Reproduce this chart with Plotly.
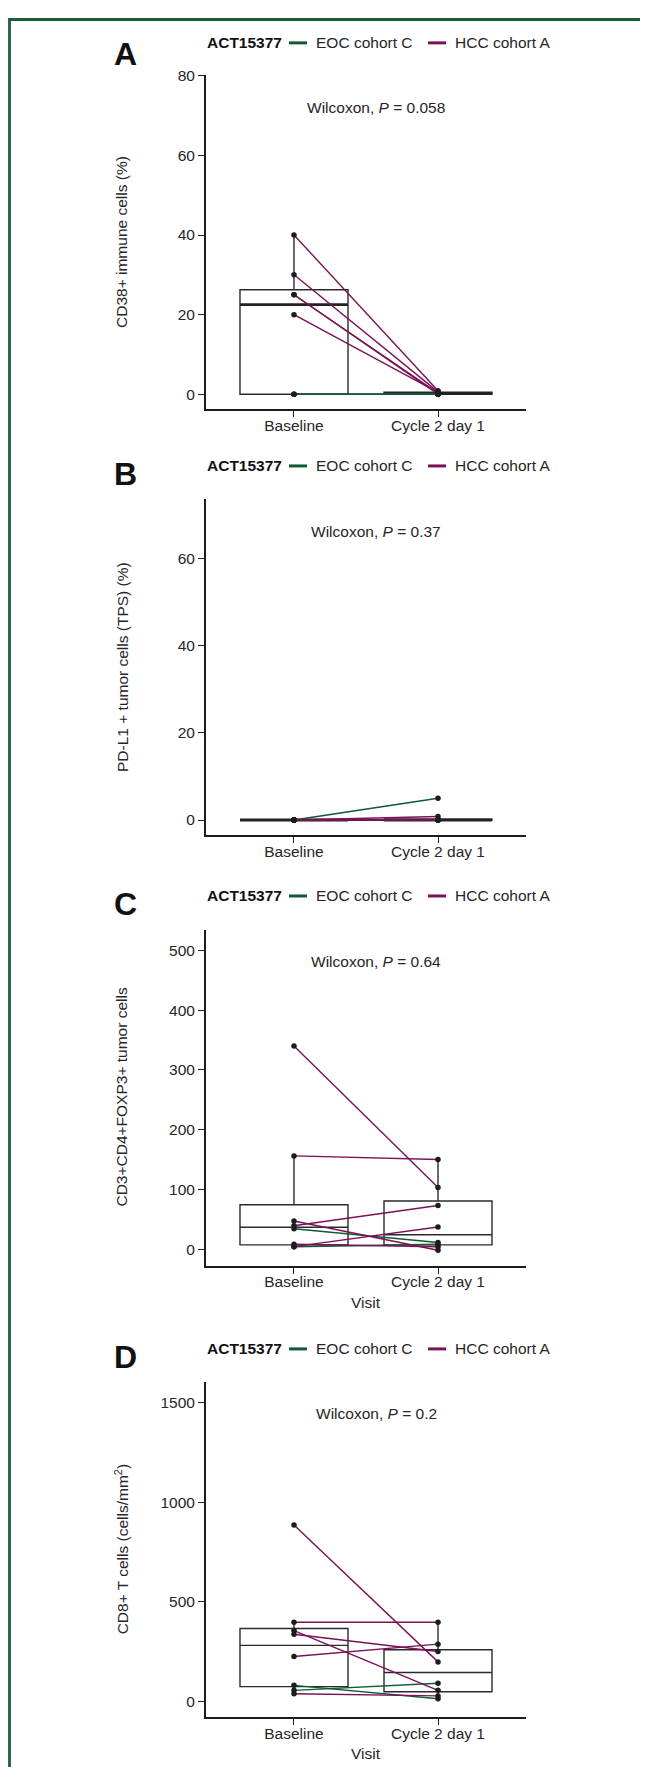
import numpy as np
import plotly.graph_objects as go

W, H = 648, 1767          # browser window
OFF = 8                   # default page body margin
FW, FH = W - OFF, H - OFF # figure size so it fits the window exactly

# ---------------- data ----------------
visits = ["Baseline", "Cycle 2 day 1"]
visit_pos = [1, 2]
legend_labels = ["EOC cohort C", "HCC cohort A"]
cohort_keys = ["EOC", "HCC"]

# Panel A: CD38+ immune cells (%)
a_cohort = ["HCC", "HCC", "HCC", "HCC", "HCC", "HCC", "EOC", "EOC"]
a_baseline = [40, 30, 25, 25, 20, 0, 0, 0]
a_cycle2 = [0.9, 0.6, 0.3, 0, 0.5, 0, 0, 0]
a_ticks = [0, 20, 40, 60, 80]
a_p = "0.058"

# Panel B: PD-L1+ tumor cells (TPS) (%)
b_cohort = ["EOC", "EOC", "HCC", "HCC", "HCC", "HCC", "HCC", "HCC"]
b_baseline = [0, 0, 0, 0, 0, 0, 0, 0]
b_cycle2 = [5, 0, 0.8, 0, 0, 0, 0, 0]
b_ticks = [0, 20, 40, 60]
b_p = "0.37"

# Panel C: CD3+CD4+FOXP3+ tumor cells
c_cohort = ["HCC", "HCC", "HCC", "HCC", "HCC", "EOC", "EOC", "HCC"]
c_baseline = [340, 156, 39, 47, 4, 34, 4, 8]
c_cycle2 = [103, 150, 73, -2, 37, 11, 8, 4]
c_ticks = [0, 100, 200, 300, 400, 500]
c_p = "0.64"

# Panel D: CD8+ T cells (cells/mm2)
d_cohort = ["HCC", "HCC", "HCC", "HCC", "HCC", "EOC", "EOC", "HCC"]
d_baseline = [885, 397, 355, 337, 225, 80, 55, 38]
d_cycle2 = [198, 397, 55, 250, 287, 13, 91, 27]
d_ticks = [0, 500, 1000, 1500]
d_p = "0.2"

# ---------------- styling ----------------
FONT = "Liberation Sans, Arial, Helvetica, sans-serif"
COL = {"EOC": "#0e5a35", "HCC": "#7a1257"}
INK = "#1c1c1c"
TXT = "#262626"
BORDER = "#1b5e3b"
FS = 15.5


def py(px):
    return 1 - (px - OFF) / FH


def pxx(px):
    return (px - OFF) / FW


panels = [
    dict(letter="A", cohort=a_cohort, base=a_baseline, cyc=a_cycle2, ticks=a_ticks, p=a_p,
         ytitle="CD38+ immune cells (%)", top=67, bot=403, zero=388, ppu=4.0,
         leg=35, let=46, wy=72, visit=False, order=["HCC", "EOC"], fat=True),
    dict(letter="B", cohort=b_cohort, base=b_baseline, cyc=b_cycle2, ticks=b_ticks, p=b_p,
         ytitle="PD-L1 + tumor cells (TPS) (%)", top=493, bot=831, zero=815.7, ppu=4.375,
         leg=460, let=468, wy=66.2, visit=False, order=["EOC", "HCC"], fat=True),
    dict(letter="C", cohort=c_cohort, base=c_baseline, cyc=c_cycle2, ticks=c_ticks, p=c_p,
         ytitle="CD3+CD4+FOXP3+ tumor cells", top=925.7, bot=1263.3, zero=1246.7, ppu=0.6,
         leg=892, let=900, wy=482, visit=True, order=["EOC", "HCC"], fat=False),
    dict(letter="D", cohort=d_cohort, base=d_baseline, cyc=d_cycle2, ticks=d_ticks, p=d_p,
         ytitle="CD8+ T cells (cells/mm<sup>2</sup>)", top=1380, bot=1716.7, zero=1701, ppu=0.2,
         leg=1347, let=1355, wy=1446, visit=True, order=["EOC", "HCC"], fat=False),
]

X_LEFT, X_RIGHT = 206, 526
X_RANGE = [0.389, 2.611]


def box_stats(v):
    v = np.asarray(v, float)
    q1, med, q3 = np.percentile(v, [25, 50, 75])
    iqr = q3 - q1
    lo = v[v >= q1 - 1.5 * iqr].min()
    hi = v[v <= q3 + 1.5 * iqr].max()
    return q1, med, q3, lo, hi


fig = go.Figure()
annotations = []
shapes = []

for i, p in enumerate(panels):
    k = "" if i == 0 else str(i + 1)
    xa, ya = "x" + k, "y" + k

    # boxes
    stats = [box_stats(p["base"]), box_stats(p["cyc"])]
    fig.add_trace(go.Box(
        x=visit_pos,
        q1=[s[0] for s in stats], median=[s[1] for s in stats], q3=[s[2] for s in stats],
        lowerfence=[s[3] for s in stats], upperfence=[s[4] for s in stats],
        width=0.75, whiskerwidth=0, boxpoints=False,
        line=dict(color="#2a2a2a", width=1.4), fillcolor="rgba(255,255,255,0)",
        xaxis=xa, yaxis=ya, showlegend=False, hoverinfo="skip"))
    if p["fat"]:
        # thicker median bar (ggplot-style fattened median)
        meds = [s[1] for s in stats]
        fig.add_trace(go.Box(
            x=visit_pos, q1=meds, median=meds, q3=meds, lowerfence=meds, upperfence=meds,
            width=0.75, whiskerwidth=0, boxpoints=False,
            line=dict(color="#222222", width=2.8), fillcolor="rgba(255,255,255,0)",
            xaxis=xa, yaxis=ya, showlegend=False, hoverinfo="skip"))

    # paired lines per cohort
    for ck in p["order"]:
        xs, ys = [], []
        for c, b, cy in zip(p["cohort"], p["base"], p["cyc"]):
            if c == ck:
                xs += [visit_pos[0], visit_pos[1], None]
                ys += [b, cy, None]
        fig.add_trace(go.Scatter(x=xs, y=ys, mode="lines",
                                 line=dict(color=COL[ck], width=1.4),
                                 xaxis=xa, yaxis=ya, showlegend=False, hoverinfo="skip"))

    # points
    n = len(p["base"])
    fig.add_trace(go.Scatter(x=[visit_pos[0]] * n + [visit_pos[1]] * n,
                             y=list(p["base"]) + list(p["cyc"]), mode="markers",
                             marker=dict(color=INK, size=5.5),
                             xaxis=xa, yaxis=ya, showlegend=False, hoverinfo="skip"))

    yr = [(p["zero"] - p["bot"]) / p["ppu"], (p["zero"] - p["top"]) / p["ppu"]]
    axis_common = dict(showline=True, linecolor=INK, linewidth=2, ticks="outside",
                       ticklen=6, tickwidth=1.4, tickcolor=INK, showgrid=False,
                       zeroline=False, tickfont=dict(family=FONT, size=FS, color=TXT))
    fig.update_layout(**{
        "xaxis" + k: dict(domain=[pxx(X_LEFT), pxx(X_RIGHT)], range=X_RANGE,
                          tickvals=visit_pos, ticktext=visits, anchor=ya,
                          ticklabelstandoff=-5, **axis_common),
        "yaxis" + k: dict(domain=[py(p["bot"]), py(p["top"])], range=yr,
                          tickvals=p["ticks"], anchor=xa, **axis_common),
    })

    # panel letter
    annotations.append(dict(text="<b>%s</b>" % p["letter"], x=pxx(125), y=py(p["let"]),
                            xref="paper", yref="paper", xanchor="center", yanchor="middle",
                            showarrow=False, font=dict(family=FONT, size=32, color="#111")))
    # legend row
    ly = py(p["leg"])
    annotations.append(dict(text="<b>ACT15377</b>", x=pxx(205), y=ly, xref="paper", yref="paper",
                            xanchor="left", yanchor="middle", showarrow=False,
                            font=dict(family=FONT, size=15.5, color="#111")))
    annotations.append(dict(text=legend_labels[0], x=pxx(314), y=ly, xref="paper", yref="paper",
                            xanchor="left", yanchor="middle", showarrow=False,
                            font=dict(family=FONT, size=15.5, color=TXT)))
    annotations.append(dict(text=legend_labels[1], x=pxx(453), y=ly, xref="paper", yref="paper",
                            xanchor="left", yanchor="middle", showarrow=False,
                            font=dict(family=FONT, size=15.5, color=TXT)))
    shapes.append(dict(type="line", xref="paper", yref="paper", x0=pxx(289), x1=pxx(307),
                       y0=ly, y1=ly, line=dict(color=COL["EOC"], width=3)))
    shapes.append(dict(type="line", xref="paper", yref="paper", x0=pxx(428), x1=pxx(446),
                       y0=ly, y1=ly, line=dict(color=COL["HCC"], width=3)))

    # y title
    annotations.append(dict(text=p["ytitle"], x=pxx(122), y=py((p["top"] + p["bot"]) / 2),
                            xref="paper", yref="paper", xanchor="center", yanchor="middle",
                            textangle=-90, showarrow=False,
                            font=dict(family=FONT, size=FS, color=TXT)))
    # Wilcoxon label
    annotations.append(dict(text="Wilcoxon, <i>P</i> = %s" % p["p"], x=1.57, y=p["wy"],
                            xref=xa, yref=ya, xanchor="center", yanchor="middle",
                            showarrow=False, font=dict(family=FONT, size=15.5, color=TXT)))
    if p["visit"]:
        annotations.append(dict(text="Visit", x=pxx(366), y=py(p["bot"] + 37),
                                xref="paper", yref="paper", xanchor="center", yanchor="middle",
                                showarrow=False, font=dict(family=FONT, size=FS, color=TXT)))

# frame border (top and left)
shapes.append(dict(type="path", xref="paper", yref="paper",
                   path="M %f,%f L %f,%f L %f,%f" % (pxx(9.5), -0.01, pxx(9.5), py(11.5), 1.01, py(11.5)),
                   line=dict(color=BORDER, width=2.8)))

fig.update_layout(width=FW, height=FH, margin=dict(l=0, r=0, t=0, b=0),
                  paper_bgcolor="white", plot_bgcolor="white", showlegend=False,
                  annotations=annotations, shapes=shapes)

fig.write_html("out.html")
